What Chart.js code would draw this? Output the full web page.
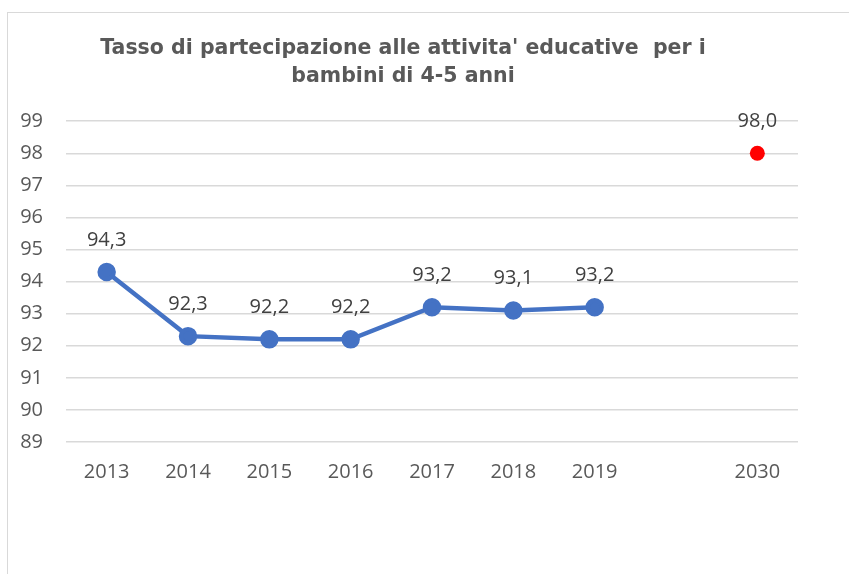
<!DOCTYPE html>
<html>
<head>
<meta charset="utf-8">
<script src="https://cdn.jsdelivr.net/npm/chart.js@4/dist/chart.umd.min.js"></script>
<style>
  html, body { margin: 0; padding: 0; background: #fff; }
  #wrap { position: relative; width: 849px; height: 574px; overflow: hidden; }
  #frame { position: absolute; left: 7px; top: 12px; width: 900px; height: 700px;
    border-left: 1px solid #d9d9d9; border-top: 1px solid #d9d9d9; }
  canvas { position: absolute; left: 0; top: 0; }
</style>
</head>
<body>
<div id="wrap">
  <div id="frame"></div>
  <canvas id="chart" width="849" height="574"></canvas>
</div>
<script>
"use strict";

// Partecipazione 4-5 anni: serie storica 2013-2019 più il target 2030 (punto rosso).
const YEARS = ["2013", "2014", "2015", "2016", "2017", "2018", "2019", "", "2030"];
const RATE = [94.3, 92.3, 92.2, 92.2, 93.2, 93.1, 93.2, null, null];
const TARGET = [null, null, null, null, null, null, null, null, 98.0];
const Y_MIN = 89;
const Y_MAX = 99;

const FONT = "'Open Sans', sans-serif";
const TITLE_FONT = "'DejaVu Sans', sans-serif";

function fmt(v) {
  return v.toFixed(1).replace(".", ",");
}

// small inline replacement for chartjs-plugin-datalabels
const valueLabels = {
  id: "valueLabels",
  afterDatasetsDraw(chart) {
    const ctx = chart.ctx;
    ctx.save();
    ctx.font = "20px " + FONT;
    ctx.fillStyle = "#404040";
    ctx.textAlign = "center";
    ctx.textBaseline = "middle";
    chart.data.datasets.forEach((ds, i) => {
      chart.getDatasetMeta(i).data.forEach((pt, j) => {
        const v = ds.data[j];
        if (v == null) return;
        ctx.fillText(fmt(v), pt.x, pt.y - 32);
      });
    });
    ctx.restore();
  },
};

function draw() {
  new Chart(document.getElementById("chart"), {
    type: "line",
    data: {
      labels: YEARS,
      datasets: [
        { label: "Tasso", data: RATE, borderColor: "#4472c4", backgroundColor: "#4472c4",
          borderWidth: 4.5, pointRadius: 7, pointHoverRadius: 7, spanGaps: false, tension: 0 },
        { label: "Target 2030", data: TARGET, borderColor: "#ff0000", backgroundColor: "#ff0000",
          borderWidth: 0, pointRadius: 7.5, pointHoverRadius: 7.5, showLine: false },
      ],
    },
    options: {
      responsive: false,
      animation: false,
      layout: { padding: { left: 8, right: 51, top: 0, bottom: 0 } },
      plugins: {
        legend: { display: false },
        tooltip: { enabled: false },
        title: {
          display: true,
          text: ["Tasso di partecipazione alle attivita' educative  per i", "bambini di 4-5 anni"],
          color: "#595959",
          font: { family: TITLE_FONT, size: 20.5, weight: "bold", lineHeight: 1.37 },
          padding: { top: 35, bottom: 30 },
        },
      },
      scales: {
        x: {
          offset: true,
          grid: { display: false, drawTicks: false },
          border: { display: false },
          ticks: { color: "#595959", font: { family: FONT, size: 20 }, padding: 18, autoSkip: false, maxRotation: 0 },
          afterFit(s) { s.height = 132; },
        },
        y: {
          min: Y_MIN,
          max: Y_MAX,
          grid: { color: "#d9d9d9", lineWidth: 1.5, drawTicks: false },
          border: { display: false },
          ticks: { stepSize: 1, color: "#595959", font: { family: FONT, size: 20 }, padding: 23 },
          afterFit(s) { s.width = 58; },
        },
      },
    },
    plugins: [valueLabels],
  });
}

Promise.all([
  document.fonts.load("20px 'Open Sans'"),
  document.fonts.load("bold 20px 'DejaVu Sans'"),
]).then(draw, draw);
</script>
</body>
</html>
